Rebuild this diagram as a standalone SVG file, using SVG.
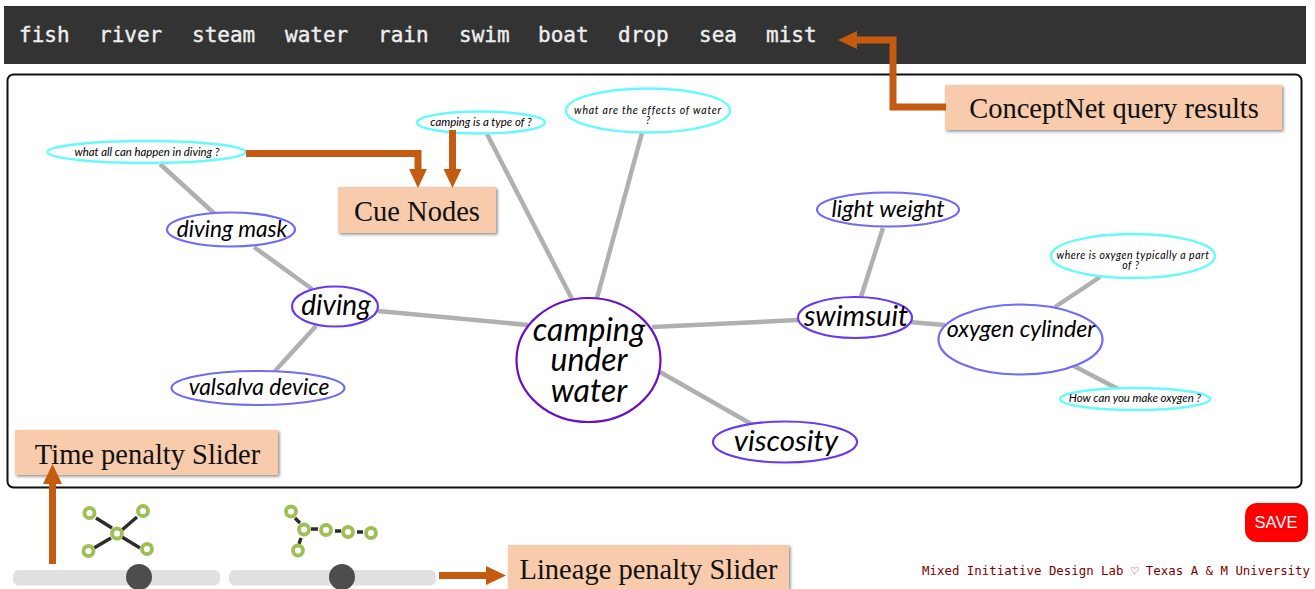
<svg xmlns="http://www.w3.org/2000/svg" width="1315" height="589" viewBox="0 0 1315 589">
<style>
.edge{stroke:#b0b0b0;stroke-width:4.5;fill:none}
.arrow{stroke:#c55a11;stroke-width:7;fill:none}
.head{fill:#c55a11}
.n{fill:#fff}
.root{stroke:#6a0fc8;stroke-width:2.2}
.main{stroke:#6a38f0;stroke-width:2.2}
.sub{stroke:#6f6cf5;stroke-width:2.2}
.cue{stroke:#66fbfb;stroke-width:2.4}
text{text-anchor:middle;fill:#000}
.t{font-family:"Lato","Open Sans",sans-serif;font-style:italic}
.lab{font-family:"Liberation Serif",serif;font-size:28.5px;fill:#111}
.box{fill:#f7cbac;filter:url(#sh)}
.word{font-family:"DejaVu Sans Mono",monospace;font-size:21px;fill:#eee;text-anchor:start;stroke:#eee;stroke-width:.4}
.ring{fill:none;stroke:#9fbf55;stroke-width:3.8}
.lk{stroke:#2c2c2c;stroke-width:3.4;fill:none}
</style>
<defs>
<filter id="sh" x="-10%" y="-20%" width="120%" height="150%"><feDropShadow dx="1.5" dy="1.5" stdDeviation="1.8" flood-color="#000" flood-opacity="0.45"/></filter>
</defs>
<rect width="1315" height="589" fill="#fff"/>
<g id="topbar">
<rect x="4" y="6" width="1302" height="58" fill="#333"/>
<text class="word" x="19" y="42">fish</text>
<text class="word" x="99" y="42">river</text>
<text class="word" x="192" y="42">steam</text>
<text class="word" x="285" y="42">water</text>
<text class="word" x="378" y="42">rain</text>
<text class="word" x="459" y="42">swim</text>
<text class="word" x="538" y="42">boat</text>
<text class="word" x="618" y="42">drop</text>
<text class="word" x="699" y="42">sea</text>
<text class="word" x="766" y="42">mist</text>
</g>
<rect id="canvas" x="7.500" y="74.500" width="1294" height="413" rx="6" fill="#fff" stroke="#111" stroke-width="2"/>
<g id="connectors">
<line class="edge" x1="160" y1="164" x2="217" y2="216"/>
<line class="edge" x1="254" y1="247" x2="312" y2="289"/>
<line class="edge" x1="316" y1="326" x2="275" y2="371"/>
<line class="edge" x1="378" y1="311" x2="528" y2="325"/>
<line class="edge" x1="487" y1="134" x2="572" y2="299"/>
<line class="edge" x1="642" y1="133" x2="597" y2="298"/>
<line class="edge" x1="652" y1="327" x2="798" y2="320"/>
<line class="edge" x1="660" y1="372" x2="753" y2="425"/>
<line class="edge" x1="883" y1="228" x2="861" y2="297"/>
<line class="edge" x1="909" y1="322" x2="945" y2="325"/>
<line class="edge" x1="1055" y1="307" x2="1100" y2="277"/>
<line class="edge" x1="1072" y1="365" x2="1118" y2="389"/>
</g>
<g id="node-root"><ellipse class="n root" cx="588.500" cy="360" rx="72" ry="62"/>
<text class="t" x="589" y="341" font-size="32">camping</text><text class="t" x="589" y="371" font-size="32">under</text><text class="t" x="589" y="402" font-size="32">water</text></g>
<g id="node-diving"><ellipse class="n main" cx="335" cy="306.500" rx="43" ry="20"/><text class="t" x="336" y="315" font-size="28">diving</text></g>
<g id="node-swimsuit"><ellipse class="n main" cx="855" cy="317.500" rx="57" ry="20.500"/><text class="t" x="856" y="326" font-size="28.500">swimsuit</text></g>
<g id="node-viscosity"><ellipse class="n main" cx="785" cy="442" rx="72" ry="20.500"/><text class="t" x="786" y="451" font-size="29.500">viscosity</text></g>
<g id="node-diving-mask"><ellipse class="n sub" cx="231" cy="229.500" rx="64" ry="17"/><text class="t" x="232" y="237" font-size="22.600">diving mask</text></g>
<g id="node-valsalva"><ellipse class="n sub" cx="258" cy="388" rx="86.500" ry="17"/><text class="t" x="259" y="395" font-size="22.800">valsalva device</text></g>
<g id="node-light-weight"><ellipse class="n sub" cx="888" cy="209.500" rx="71" ry="17"/><text class="t" x="888" y="217" font-size="23.400">light weight</text></g>
<g id="node-oxygen"><ellipse class="n sub" cx="1020.500" cy="339.500" rx="82" ry="35"/><text class="t" x="1021" y="337" font-size="23.200">oxygen cylinder</text></g>
<g id="cue-diving"><ellipse class="n cue" cx="146.500" cy="152" rx="99" ry="11"/><text class="t" x="147" y="156" font-size="11.400">what all can happen in diving ?</text></g>
<g id="cue-camping"><ellipse class="n cue" cx="481" cy="122.500" rx="64" ry="11"/><text class="t" x="481" y="126" font-size="11.400">camping is a type of ?</text></g>
<g id="cue-water"><ellipse class="n cue" cx="648" cy="110.500" rx="82" ry="22"/><text class="t" x="648" y="114" font-size="10.500" letter-spacing=".78">what are the effects of water</text><text class="t" x="648" y="124" font-size="10.500">?</text></g>
<g id="cue-oxygen-part"><ellipse class="n cue" cx="1133" cy="256" rx="82" ry="22"/><text class="t" x="1133" y="259" font-size="10.500" letter-spacing=".53">where is oxygen typically a part</text><text class="t" x="1131" y="269" font-size="10.500" letter-spacing=".53">of ?</text></g>
<g id="cue-oxygen-make"><ellipse class="n cue" cx="1135" cy="399" rx="75" ry="11"/><text class="t" x="1135" y="402" font-size="11.400">How can you make oxygen ?</text></g>
<g id="label-conceptnet"><rect class="box" x="945" y="85" width="337" height="45"/><text class="lab" x="1114" y="118">ConceptNet query results</text></g>
<g id="label-cue"><rect class="box" x="338" y="187" width="158" height="46"/><text class="lab" x="417" y="221">Cue Nodes</text></g>
<g id="label-time"><rect class="box" x="15" y="430" width="263" height="45"/><text class="lab" x="147.500" y="464">Time penalty Slider</text></g>
<g id="label-lineage"><rect class="box" x="508" y="545" width="281" height="50"/><text class="lab" x="648.500" y="579">Lineage penalty Slider</text></g>
<g id="annotation-arrows">
<path class="arrow" d="M246 153.500H418V170"/><path class="head" d="M409 169h18l-9 19z"/>
<line class="arrow" x1="452.500" y1="130" x2="452.500" y2="170"/><path class="head" d="M443.500 169h18l-9 19z"/>
<path class="arrow" d="M946 107H893V40H855"/><path class="head" d="M838 40l19-9v18z"/>
<line class="arrow" x1="52.500" y1="564" x2="52.500" y2="482"/><path class="head" d="M43 484h19l-9.500-20z"/>
<line class="arrow" x1="439" y1="575.500" x2="488" y2="575.500"/><path class="head" d="M486 566l20 9.500-20 9.500z"/>
</g>
<g id="icon-time">
<path class="lk" d="M96 518L112 528M122 530L137 517M111 538L94 548M122 537L140 548"/>
<circle class="ring" cx="89.500" cy="513" r="5"/><circle class="ring" cx="143" cy="511" r="5"/><circle class="ring" cx="117" cy="533.500" r="5"/><circle class="ring" cx="88.500" cy="551" r="5"/><circle class="ring" cx="147" cy="549" r="5"/>
</g>
<g id="icon-lineage">
<path class="lk" d="M295 518L300 523M301 538L299 544M311 529H318M335 531H341M357 532H363"/>
<circle class="ring" cx="291" cy="511.500" r="5"/><circle class="ring" cx="304" cy="529.500" r="5"/><circle class="ring" cx="326" cy="530" r="5"/><circle class="ring" cx="348" cy="532" r="5"/><circle class="ring" cx="371" cy="533" r="5"/><circle class="ring" cx="298" cy="550.500" r="5"/>
</g>
<g id="slider-time"><rect x="13" y="570" width="207" height="15.500" rx="6" fill="#e0e0e0"/><circle cx="139" cy="577" r="13" fill="#4d4d4d"/></g>
<g id="slider-lineage"><rect x="229" y="570" width="207" height="15.500" rx="6" fill="#e0e0e0"/><circle cx="342" cy="577" r="13" fill="#4d4d4d"/></g>
<g id="save"><rect x="1245" y="503" width="63" height="39" rx="12" fill="#ff0000"/><text x="1276" y="528" font-family="Liberation Sans, sans-serif" font-size="16.500" style="fill:#fff">SAVE</text></g>
<text x="1310" y="575" font-family="DejaVu Sans Mono, monospace" font-size="12.400" style="fill:#800000;text-anchor:end">Mixed Initiative Design Lab ♡ Texas A &amp; M University</text>
</svg>
